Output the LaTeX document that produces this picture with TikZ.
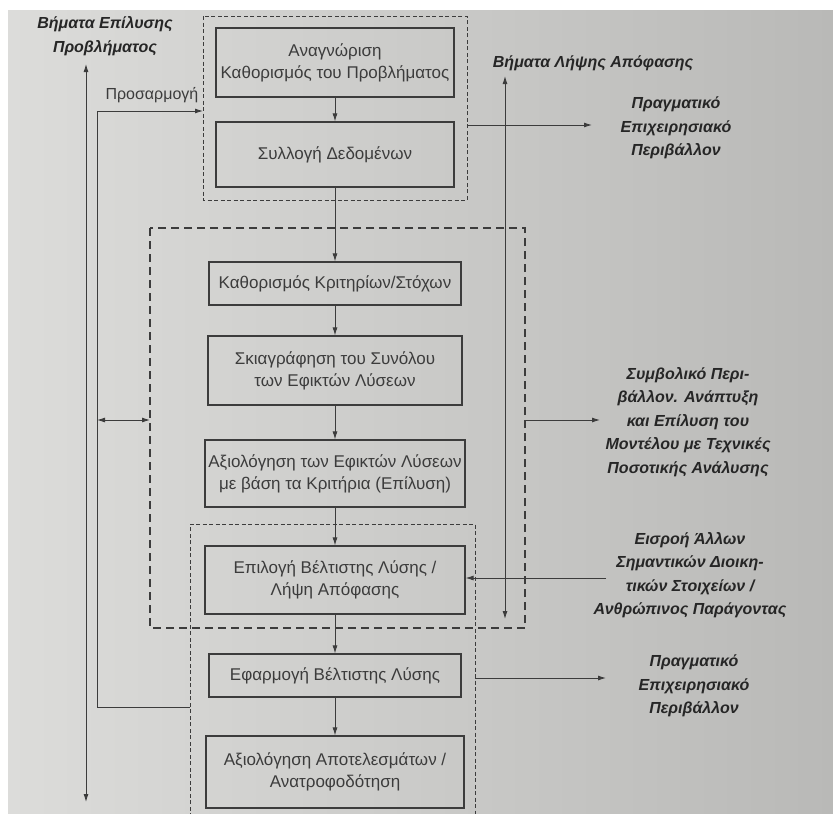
\documentclass[tikz,border=0pt]{standalone}
\usepackage{fontspec}
\setmainfont{Liberation Sans}
\usetikzlibrary{arrows.meta,calc}
\definecolor{ink}{HTML}{3C3C3C}
\definecolor{lbl}{HTML}{262626}
\definecolor{paperL}{HTML}{DCDCDA}
\definecolor{paperR}{HTML}{B9B9B7}
\begin{document}
\begin{tikzpicture}[x=1pt,y=-1pt,
  procbox/.style={draw=ink,line width=1.1pt,text=ink,align=center,inner sep=2pt,
    font=\fontsize{17}{22}\selectfont},
  dashA/.style={draw=ink,line width=1pt,dash pattern=on 4pt off 2.5pt},
  dashB/.style={draw=ink,line width=1.1pt,dash pattern=on 8pt off 5pt},
  sidelbl/.style={text=lbl,align=center,font=\fontsize{16}{23.5}\selectfont\bfseries\itshape},
  arr/.style={draw=ink,line width=0.9pt,-{Latex[length=8pt,width=5pt]}},
  arrtwo/.style={draw=ink,line width=0.9pt,{Latex[length=8pt,width=5pt]}-{Latex[length=8pt,width=5pt]}}]
\useasboundingbox (0,0) rectangle (833,814);
\clip (0,0) rectangle (833,814);
\fill[white] (0,0) rectangle (833,814);
\shade[left color=paperL,right color=paperR] (8,10) rectangle (833,814);

% dashed groups
\draw[dashA] (203,16) rectangle (467,200);
\draw[dashB] (150,228) rectangle (525,628);
\draw[dashA] (190,830) -- (190,524) -- (475,524) -- (475,830);
\coordinate (Aw) at (203,111);
\coordinate (Ae) at (467,125);
\coordinate (Bw) at (150,420);
\coordinate (Be) at (525,420);
\coordinate (Cw) at (190,707);
\coordinate (Ce) at (475,678);

% process boxes
\node[procbox,minimum width=238pt,minimum height=69pt] (b1) at (335,62.5) {Αναγνώριση\\Καθορισμός του Προβλήματος};
\node[procbox,minimum width=238pt,minimum height=65pt] (b2) at (335,154.5) {Συλλογή Δεδομένων};
\node[procbox,minimum width=252pt,minimum height=43pt] (b3) at (335,283.5) {Καθορισμός Κριτηρίων/Στόχων};
\node[procbox,minimum width=254pt,minimum height=69pt] (b4) at (335,370.5) {Σκιαγράφηση του Συνόλου\\των Εφικτών Λύσεων};
\node[procbox,minimum width=260pt,minimum height=67pt] (b5) at (335,473.5) {Αξιολόγηση των Εφικτών Λύσεων\\με βάση τα Κριτήρια (Επίλυση)};
\node[procbox,minimum width=260pt,minimum height=68pt] (b6) at (335,580) {Επιλογή Βέλτιστης Λύσης /\\Λήψη Απόφασης};
\node[procbox,minimum width=252pt,minimum height=43pt] (b7) at (335,675.5) {Εφαρμογή Βέλτιστης Λύσης};
\node[procbox,minimum width=258pt,minimum height=72pt] (b8) at (335,772) {Αξιολόγηση Αποτελεσμάτων /\\Ανατροφοδότηση};

\draw[arr] (b1) -- (b2);
\draw[arr] (b2) -- (b3);
\draw[arr] (b3) -- (b4);
\draw[arr] (b4) -- (b5);
\draw[arr] (b5) -- (b6);
\draw[arr] (b6) -- (b7);
\draw[arr] (b7) -- (b8);

% side labels
\node[sidelbl] (tl) at (105,36) {Βήματα Επίλυσης\\Προβλήματος};
\node[text=ink,anchor=west,font=\fontsize{16}{20}\selectfont] (pros) at (102,95) {Προσαρμογή};
\node[sidelbl] (tr) at (593,63) {Βήματα Λήψης Απόφασης};
\node[sidelbl] (real1) at (676,128) {Πραγματικό\\Επιχειρησιακό\\Περιβάλλον};
\node[sidelbl] (sym) at (688,422) {Συμβολικό Περι-\\βάλλον. Ανάπτυξη\\και Επίλυση του\\Μοντέλου με Τεχνικές\\Ποσοτικής Ανάλυσης};
\node[sidelbl] (eis) at (690,575) {Εισροή Άλλων\\Σημαντικών Διοικη-\\τικών Στοιχείων /\\Ανθρώπινος Παράγοντας};
\node[sidelbl] (real2) at (694,686) {Πραγματικό\\Επιχειρησιακό\\Περιβάλλον};

% right side connectors
\coordinate (r1end) at (592,125);
\draw[arr] (Ae) -- (r1end);
\coordinate (vtop) at (505,76);
\coordinate (vbot) at (505,619);
\draw[arrtwo] (vtop) -- (vbot);
\coordinate (symend) at (600,420);
\draw[arr] (Be) -- (symend);
\coordinate (eisstart) at (606,578);
\draw[arr] (eisstart) -- (b6.east |- eisstart);
\coordinate (r2end) at (606,678);
\draw[arr] (Ce) -- (r2end);

% left side connectors
\coordinate (ltop) at (86,64);
\coordinate (lbot) at (86,802);
\draw[arrtwo] (ltop) -- (lbot);
\coordinate (fbb) at (97,707);
\coordinate (fbt) at (97,111);
\draw[arr] (Cw) -- (fbb) -- (fbt) -- (Aw);
\coordinate (lr) at (97,420);
\draw[arrtwo] (lr) -- (Bw);
\end{tikzpicture}
\end{document}
